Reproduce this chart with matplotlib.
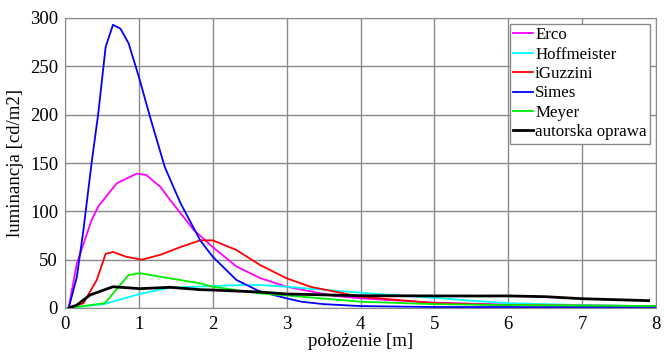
"""Luminance profiles along the road for several luminaires"""

import matplotlib.pyplot as plt

plt.rcParams["font.family"] = ["Liberation Serif", "DejaVu Serif"]

# Erco
erco_x = [0.05, 0.16, 0.36, 0.45, 0.7, 0.97, 1.1, 1.29, 1.42, 1.74, 2.0, 2.32, 2.64, 3.0, 3.63, 4.0, 5.0, 6.0, 7.0, 8.0]
erco_y = [0, 46, 91, 105, 129, 139, 137.5, 125.5, 112, 81, 63, 43, 31, 22, 12.7, 10, 5.5, 3.5, 2.5, 2]

# Hoffmeister
hoff_x = [0.05, 0.53, 1.01, 1.42, 2.0, 2.41, 2.64, 3.0, 4.0, 5.0, 5.6, 6.0, 7.0, 8.0]
hoff_y = [0, 4, 14.5, 21, 22.7, 23.8, 23.8, 22, 15.8, 10.5, 7, 5, 3, 1.8]

# iGuzzini
iguz_x = [0.05, 0.25, 0.43, 0.55, 0.65, 0.83, 1.04, 1.29, 1.56, 1.83, 2.0, 2.32, 2.64, 3.0, 3.32, 4.0, 5.0, 6.0, 7.0, 8.0]
iguz_y = [0, 5, 29, 56, 58, 53, 50, 55, 63, 70, 70, 60, 44.5, 30.7, 22, 11.7, 5, 3, 2.5, 2]

# Simes
simes_x = [0.05, 0.16, 0.25, 0.36, 0.45, 0.55, 0.65, 0.75, 0.86, 1.0, 1.15, 1.35, 1.56, 1.83, 2.0, 2.32, 2.64, 3.0, 3.2, 3.5, 4.0, 5.0, 6.0, 7.0, 8.0]
simes_y = [0, 32, 81, 150, 201, 270, 293, 289, 274, 239, 198, 146, 109, 70, 53, 29, 17, 10, 6.5, 4, 2, 1, 1, 1, 1]

# Meyer
meyer_x = [0.05, 0.54, 0.86, 1.01, 1.42, 1.83, 2.0, 2.64, 3.0, 4.0, 5.0, 6.0, 7.0, 8.0]
meyer_y = [0, 5, 34, 36, 30.7, 25.5, 22, 15, 13, 6.5, 4, 3, 2.5, 2]

# autorska oprawa
auto_x = [0.05, 0.16, 0.34, 0.65, 1.01, 1.42, 1.83, 2.0, 2.64, 3.0, 4.0, 5.0, 5.6, 6.0, 6.5, 7.0, 7.5, 7.9]
auto_y = [0, 3, 13.5, 22, 20, 21.4, 19, 18.6, 16.5, 14.5, 12.7, 12.5, 12.4, 12.5, 11.7, 9.6, 8.5, 7.6]

series = [
    ("Erco", erco_x, erco_y, "#ff00ff", 1.3),
    ("Hoffmeister", hoff_x, hoff_y, "#00ffff", 1.3),
    ("iGuzzini", iguz_x, iguz_y, "#ff0000", 1.3),
    ("Simes", simes_x, simes_y, "#0000ff", 1.3),
    ("Meyer", meyer_x, meyer_y, "#00ee00", 1.3),
    ("autorska oprawa", auto_x, auto_y, "#000000", 2.0),
]

fig = plt.figure(figsize=(6.67, 3.54), dpi=100)
ax = fig.add_axes([65 / 667, 1 - 308 / 354, 591 / 667, 290 / 354])

for label, xs, ys, color, lw in series:
    ax.plot(xs, ys, color=color, linewidth=lw, label=label)

ax.set_xlim(0, 8)
ax.set_ylim(0, 300)
ax.set_xticks(range(0, 9))
ax.set_yticks(range(0, 301, 50))
ax.grid(True, color="#8a8a8a", linewidth=1.0)
for sp in ax.spines.values():
    sp.set_color("#8a8a8a")
ax.tick_params(labelsize=13.5, length=0)
ax.tick_params(axis="x", pad=6)
ax.tick_params(axis="y", pad=5)
ax.set_xlabel("położenie [m]", fontsize=13.5, labelpad=0)
ax.set_ylabel("luminancja [cd/m2]", fontsize=13.5, labelpad=4)

leg = ax.legend(loc="upper right", fontsize=12.2, handlelength=1.2, handletextpad=0.1,
                borderpad=0.2, labelspacing=0.2, fancybox=False, framealpha=1,
                borderaxespad=0.35)
leg.get_frame().set_edgecolor("#8a8a8a")

fig.savefig("out.png", dpi=100)
